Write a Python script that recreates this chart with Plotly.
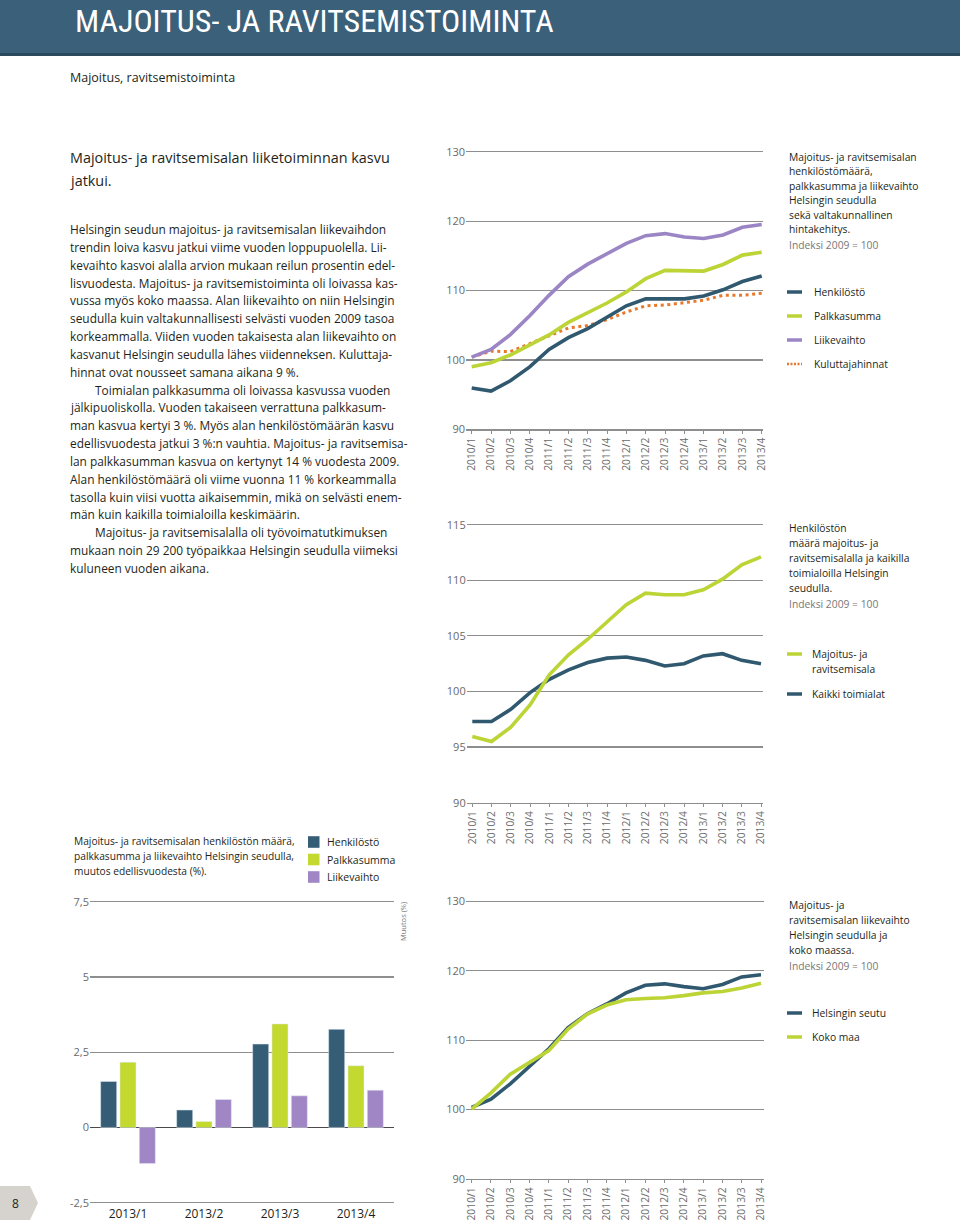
import plotly.graph_objects as go

W, H = 960, 1221

# ---------------- data ----------------
quarters = ["2010/1", "2010/2", "2010/3", "2010/4", "2011/1", "2011/2", "2011/3", "2011/4",
            "2012/1", "2012/2", "2012/3", "2012/4", "2013/1", "2013/2", "2013/3", "2013/4"]

# Chart 1: index 2009 = 100
henkilosto = [95.96, 95.5, 97.0, 99.0, 101.5, 103.2, 104.5, 106.1, 107.8, 108.8, 108.75, 108.8, 109.2, 110.1, 111.3, 112.1]
palkkasumma = [99.0, 99.6, 100.7, 102.1, 103.6, 105.4, 106.8, 108.2, 109.8, 111.7, 112.9, 112.9, 112.8, 113.75, 115.1, 115.5]
liikevaihto = [100.4, 101.5, 103.65, 106.35, 109.3, 112.0, 113.8, 115.3, 116.8, 117.9, 118.2, 117.7, 117.5, 118.0, 119.1, 119.5]
kuluttajahinnat = [100.4, 101.25, 101.2, 102.35, 103.55, 104.6, 104.95, 105.8, 106.9, 107.8, 107.9, 108.2, 108.6, 109.3, 109.3, 109.6]

# Chart 2: henkilöstön määrä
majoitus_henk = [95.95, 95.5, 96.8, 98.8, 101.5, 103.3, 104.7, 106.2, 107.8, 108.85, 108.7, 108.7, 109.15, 110.1, 111.4, 112.1]
kaikki_henk = [97.3, 97.3, 98.4, 99.9, 101.1, 101.95, 102.6, 103.0, 103.1, 102.8, 102.3, 102.5, 103.2, 103.4, 102.8, 102.5]

# Chart 3: liikevaihto
helsinki_lv = [100.3, 101.5, 103.7, 106.2, 108.75, 111.8, 113.8, 115.2, 116.8, 117.9, 118.1, 117.7, 117.4, 118.0, 119.1, 119.4]
koko_maa_lv = [100.05, 102.4, 105.1, 106.8, 108.5, 111.6, 113.75, 115.05, 115.8, 116.0, 116.1, 116.4, 116.8, 117.0, 117.5, 118.2]

# Bar chart: muutos edellisvuodesta (%)
bar_quarters = ["2013/1", "2013/2", "2013/3", "2013/4"]
bar_henk = [1.53, 0.58, 2.77, 3.26]
bar_palk = [2.17, 0.2, 3.44, 2.05]
bar_liike = [-1.2, 0.93, 1.05, 1.24]
bar_ticks = [-2.5, 0, 2.5, 5, 7.5]
bar_ticktext = ["-2,5", "0", "2,5", "5", "7,5"]

# ---------------- styles ----------------
C_BLUE = "#30596f"
C_GREEN = "#bcd435"
C_PURPLE = "#9c85c4"
C_ORANGE = "#e8782c"
C_BAR_BLUE = "#365d76"
C_BAR_GREEN = "#c3d92f"
C_BAR_PURPLE = "#a086c4"
GRID = "#8e8e8e"
TICK = "#6a6a6a"
TXT = "#231f20"
FONT = "Open Sans, Noto Sans, sans-serif"


def fx(x):
    return x / W


def fy(y):
    return 1 - y / H


def ydomain(v0, p0, v1, p1, r0, r1):
    s = (p0 - p1) / (v1 - v0)
    bottom = p0 + (v0 - r0) * s
    top = p1 - (r1 - v1) * s
    return [fy(bottom), fy(top)]


def xdomain_range(first_px, last_px, n, left_px, right_px):
    step = (last_px - first_px) / (n - 1)
    return [fx(left_px), fx(right_px)], [(left_px - first_px) / step, (right_px - first_px) / step]


fig = go.Figure()

# ---------- bar chart (xaxis / yaxis) ----------
fig.add_trace(go.Bar(x=bar_quarters, y=bar_henk, name="Henkilöstö", marker_color=C_BAR_BLUE,
                     xaxis="x", yaxis="y", showlegend=False))
fig.add_trace(go.Bar(x=bar_quarters, y=bar_palk, name="Palkkasumma", marker_color=C_BAR_GREEN,
                     xaxis="x", yaxis="y", showlegend=False))
fig.add_trace(go.Bar(x=bar_quarters, y=bar_liike, name="Liikevaihto", marker_color=C_BAR_PURPLE,
                     xaxis="x", yaxis="y", showlegend=False))

# ---------- chart 1 (x2 / y2) ----------
lw = 3.6
fig.add_trace(go.Scatter(x=quarters, y=kuluttajahinnat, mode="lines", name="Kuluttajahinnat",
                         line=dict(color=C_ORANGE, width=3, dash="3px,3.6px"),
                         xaxis="x2", yaxis="y2", showlegend=False))
fig.add_trace(go.Scatter(x=quarters, y=henkilosto, mode="lines", name="Henkilöstö",
                         line=dict(color=C_BLUE, width=lw), xaxis="x2", yaxis="y2", showlegend=False))
fig.add_trace(go.Scatter(x=quarters, y=palkkasumma, mode="lines", name="Palkkasumma",
                         line=dict(color=C_GREEN, width=lw), xaxis="x2", yaxis="y2", showlegend=False))
fig.add_trace(go.Scatter(x=quarters, y=liikevaihto, mode="lines", name="Liikevaihto",
                         line=dict(color=C_PURPLE, width=lw), xaxis="x2", yaxis="y2", showlegend=False))

# ---------- chart 2 (x3 / y3) ----------
fig.add_trace(go.Scatter(x=quarters, y=kaikki_henk, mode="lines", name="Kaikki toimialat",
                         line=dict(color=C_BLUE, width=lw), xaxis="x3", yaxis="y3", showlegend=False))
fig.add_trace(go.Scatter(x=quarters, y=majoitus_henk, mode="lines", name="Majoitus- ja ravitsemisala",
                         line=dict(color=C_GREEN, width=lw), xaxis="x3", yaxis="y3", showlegend=False))

# ---------- chart 3 (x4 / y4) ----------
fig.add_trace(go.Scatter(x=quarters, y=helsinki_lv, mode="lines", name="Helsingin seutu",
                         line=dict(color=C_BLUE, width=lw), xaxis="x4", yaxis="y4", showlegend=False))
fig.add_trace(go.Scatter(x=quarters, y=koko_maa_lv, mode="lines", name="Koko maa",
                         line=dict(color=C_GREEN, width=lw), xaxis="x4", yaxis="y4", showlegend=False))

# ---------------- axes ----------------
n = len(quarters)
line_x = dict(type="category", categoryorder="array", categoryarray=quarters,
              showgrid=False, zeroline=False, showline=True, linecolor=GRID, linewidth=1.2,
              ticks="outside", ticklen=3, tickcolor=GRID, tickwidth=1,
              tickangle=-90, tickfont=dict(size=10.3, color=TICK, family=FONT), fixedrange=True)
line_y = dict(showgrid=True, gridcolor=GRID, gridwidth=1.2, zeroline=False, showline=False,
              ticks="", tickfont=dict(size=11, color=TICK, family=FONT), fixedrange=True)

d2, r2 = xdomain_range(471.7, 761.7, n, 466, 763)
d3, r3 = xdomain_range(472.3, 761.0, n, 466.7, 763)
d4, r4 = xdomain_range(471.7, 761.0, n, 466, 764)

fig.update_layout(
    xaxis=dict(type="category", domain=[fx(90), fx(394)], range=[-0.5, 3.5], showgrid=False,
               zeroline=False, showline=False, ticks="", anchor="y",
               tickfont=dict(size=12, color=TXT, family=FONT), fixedrange=True),
    yaxis=dict(domain=ydomain(-2.5, 1202.7, 7.5, 901.7, -2.56, 7.6), range=[-2.56, 7.6],
               tickvals=bar_ticks, ticktext=bar_ticktext, showgrid=True, gridcolor=GRID, gridwidth=1.2,
               zeroline=True, zerolinecolor="#4a4a4a", zerolinewidth=1.4, showline=False, ticks="",
               anchor="x", tickfont=dict(size=11, color=TICK, family=FONT), fixedrange=True),
    xaxis2=dict(line_x, domain=d2, range=r2, anchor="y2"),
    yaxis2=dict(line_y, domain=ydomain(90, 429.3, 130, 151.7, 90, 130.2), range=[90, 130.2],
                tickvals=[90, 100, 110, 120, 130], anchor="x2"),
    xaxis3=dict(line_x, domain=d3, range=r3, anchor="y3"),
    yaxis3=dict(line_y, domain=ydomain(90, 802.7, 115, 524.7, 90, 115.1), range=[90, 115.1],
                tickvals=[90, 95, 100, 105, 110, 115], anchor="x3"),
    xaxis4=dict(line_x, domain=d4, range=r4, anchor="y4"),
    yaxis4=dict(line_y, domain=ydomain(90, 1179, 130, 901.2, 90, 130.2), range=[90, 130.2],
                tickvals=[90, 100, 110, 120, 130], anchor="x4"),
    barmode="group", bargap=0.237, bargroupgap=0.17,
    width=W, height=H, margin=dict(l=0, r=0, t=0, b=0, pad=0, autoexpand=False),
    paper_bgcolor="white", plot_bgcolor="white",
    font=dict(family=FONT, color=TXT),
    showlegend=False, hovermode=False,
)

# ---------------- shapes ----------------
shapes = []
# header band
shapes.append(dict(type="rect", xref="paper", yref="paper", x0=0, x1=1, y0=fy(55), y1=1,
                   fillcolor="#3b6079", line=dict(width=0), layer="below"))
shapes.append(dict(type="rect", xref="paper", yref="paper", x0=0, x1=1, y0=fy(56), y1=fy(53),
                   fillcolor="#2c4a5e", line=dict(width=0), layer="below"))
# page tab
pts = [(0, 1186), (30, 1186), (38, 1203), (30, 1220), (0, 1220)]
path = "M " + " L ".join(f"{fx(a):.5f},{fy(b):.5f}" for a, b in pts) + " Z"
shapes.append(dict(type="path", xref="paper", yref="paper", path=path,
                   fillcolor="#d6d3ce", line=dict(width=0), layer="below"))


def swatch(y, color, dash="solid", width=3.5):
    shapes.append(dict(type="line", xref="paper", yref="paper", x0=fx(787), x1=fx(802),
                       y0=fy(y), y1=fy(y), line=dict(color=color, width=width, dash=dash)))


swatch(292, C_BLUE)
swatch(316, C_GREEN)
swatch(340, C_PURPLE)
swatch(364, C_ORANGE, dash="2px,1.5px", width=2.5)
swatch(654, C_GREEN)
swatch(694, C_BLUE)
swatch(1013, C_BLUE)
swatch(1037, C_GREEN)

for yc, col in [(842, C_BAR_BLUE), (859.5, C_BAR_GREEN), (877, C_BAR_PURPLE)]:
    shapes.append(dict(type="rect", xref="paper", yref="paper", x0=fx(308), x1=fx(319.5),
                       y0=fy(yc + 5.8), y1=fy(yc - 5.8), fillcolor=col, line=dict(width=0)))

fig.update_layout(shapes=shapes)

# ---------------- texts ----------------
ann = []


def text(x, y, s, size=11.5, color=TXT, xanchor="left", family=FONT, angle=0, yanchor="middle"):
    ann.append(dict(x=fx(x), y=fy(y), xref="paper", yref="paper", text=s, showarrow=False,
                    xanchor=xanchor, yanchor=yanchor, textangle=angle,
                    font=dict(size=size, color=color, family=family)))


text(73, 0.5, "MAJOITUS- JA RAVITSEMISTOIMINTA", size=32, color="white",
     family="Liberation Sans Narrow, Roboto Condensed, Open Sans", yanchor="top")
text(68, 78, "Majoitus, ravitsemistoiminta", size=12.5)

text(68, 158, "Majoitus- ja ravitsemisalan liiketoiminnan kasvu", size=14.4)
text(68, 180, "jatkui.", size=14.4)

body = [
    (68, "Helsingin seudun majoitus- ja ravitsemisalan liikevaihdon"),
    (68, "trendin loiva kasvu jatkui viime vuoden loppupuolella. Lii-"),
    (68, "kevaihto kasvoi alalla arvion mukaan reilun prosentin edel-"),
    (68, "lisvuodesta. Majoitus- ja ravitsemistoiminta oli loivassa kas-"),
    (68, "vussa myös koko maassa. Alan liikevaihto on niin Helsingin"),
    (68, "seudulla kuin valtakunnallisesti selvästi vuoden 2009 tasoa"),
    (68, "korkeammalla. Viiden vuoden takaisesta alan liikevaihto on"),
    (68, "kasvanut Helsingin seudulla lähes viidenneksen. Kuluttaja-"),
    (68, "hinnat ovat nousseet samana aikana 9 %."),
    (93, "Toimialan palkkasumma oli loivassa kasvussa vuoden"),
    (68, "jälkipuoliskolla. Vuoden takaiseen verrattuna palkkasum-"),
    (68, "man kasvua kertyi 3 %. Myös alan henkilöstömäärän kasvu"),
    (68, "edellisvuodesta jatkui 3 %:n vauhtia. Majoitus- ja ravitsemisa-"),
    (68, "lan palkkasumman kasvua on kertynyt 14 % vuodesta 2009."),
    (68, "Alan henkilöstömäärä oli viime vuonna 11 % korkeammalla"),
    (68, "tasolla kuin viisi vuotta aikaisemmin, mikä on selvästi enem-"),
    (68, "män kuin kaikilla toimialoilla keskimäärin."),
    (93, "Majoitus- ja ravitsemisalalla oli työvoimatutkimuksen"),
    (68, "mukaan noin 29 200 työpaikkaa Helsingin seudulla viimeksi"),
    (68, "kuluneen vuoden aikana."),
]
for i, (x, s) in enumerate(body):
    text(x, 229 + i * 17.84, s, size=11.9)

# chart 1 legend
LS = 10.3
leg1 = ["Majoitus- ja ravitsemisalan", "henkilöstömäärä,", "palkkasumma ja liikevaihto",
        "Helsingin seudulla", "sekä valtakunnallinen", "hintakehitys."]
for i, s in enumerate(leg1):
    text(787, 157 + i * 14.4, s, size=LS)
text(787, 245, "Indeksi 2009 = 100", size=LS, color="#777777")
for y, s in [(292, "Henkilöstö"), (316, "Palkkasumma"), (340, "Liikevaihto"), (364, "Kuluttajahinnat")]:
    text(812, y, s, size=LS)

# chart 2 legend
leg2 = ["Henkilöstön", "määrä majoitus- ja", "ravitsemisalalla ja kaikilla",
        "toimialoilla Helsingin", "seudulla."]
for i, s in enumerate(leg2):
    text(787, 528 + i * 15, s, size=LS)
text(787, 604, "Indeksi 2009 = 100", size=LS, color="#777777")
text(810, 654, "Majoitus- ja", size=LS)
text(810, 669, "ravitsemisala", size=LS)
text(810, 694, "Kaikki toimialat", size=LS)

# chart 3 legend
leg3 = ["Majoitus- ja", "ravitsemisalan liikevaihto", "Helsingin seudulla ja", "koko maassa."]
for i, s in enumerate(leg3):
    text(787, 905 + i * 15, s, size=LS)
text(787, 966, "Indeksi 2009 = 100", size=LS, color="#777777")
text(810, 1013, "Helsingin seutu", size=LS)
text(810, 1037, "Koko maa", size=LS)

# bar chart title & legend
bt = ["Majoitus- ja ravitsemisalan henkilöstön määrä,", "palkkasumma ja liikevaihto Helsingin seudulla,",
      "muutos edellisvuodesta (%)."]
for i, s in enumerate(bt):
    text(72, 841 + i * 15, s, size=10.2)
for y, s in [(842, "Henkilöstö"), (859.5, "Palkkasumma"), (877, "Liikevaihto")]:
    text(325, y, s, size=10.5)

text(403, 922, "Muutos (%)", size=7.5, color="#777777", xanchor="center", angle=-90)
text(15, 1203, "8", size=12, xanchor="center")

fig.update_layout(annotations=ann)

post = (
    "var s=document.createElement('style');"
    "s.textContent='html,body{margin:0!important;padding:0!important;overflow:hidden!important;}';"
    "document.head.appendChild(s);"
    "var d=document.getElementById('{plot_id}');"
    "d.style.position='absolute';d.style.top='0px';d.style.left='0px';"
)
fig.write_html("out.html", config={"displayModeBar": False, "staticPlot": True}, post_script=post)
